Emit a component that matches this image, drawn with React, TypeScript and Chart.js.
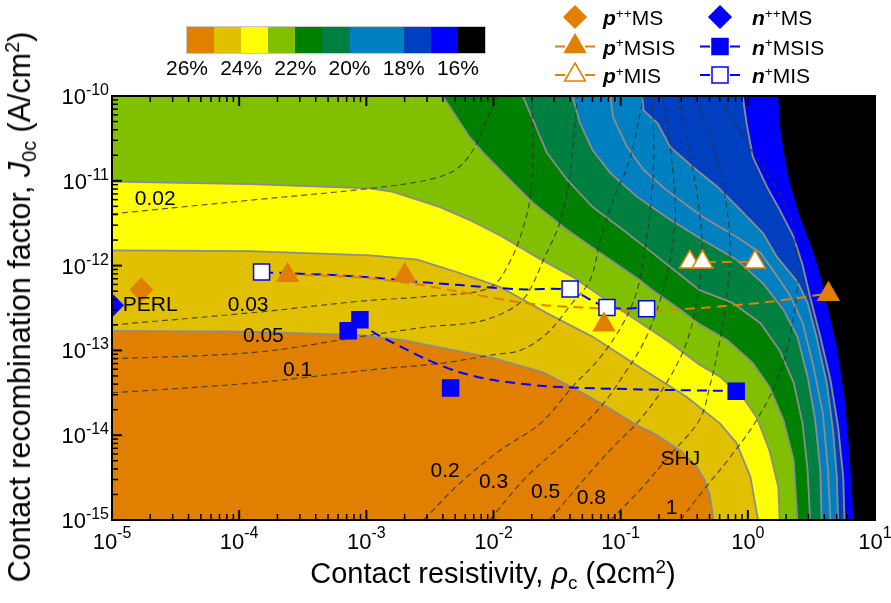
import React, { useEffect, useRef } from 'react';
import { Chart, registerables } from 'chart.js';

Chart.register(...registerables);

const FONT = '"Liberation Sans", Arial, Helvetica, sans-serif';
const ORANGE = '#E07F00';
const BLUE = '#0000FF';

// Axis ranges and decade ticks
const rhoRange = [1e-5, 10];
const j0cRange = [1e-15, 1e-10];
const rhoDecades = [-5, -4, -3, -2, -1, 0, 1];
const j0cDecades = [-15, -14, -13, -12, -11, -10];

// Efficiency colour scale (best -> worst) and colour-bar labels
const bandColors = ['#E07F00', '#E0C000', '#FFFF00', '#80C000', '#008000', '#008040', '#0080C0', '#0080C0', '#0040C0', '#0000FF', '#000000'];
const colorbarLabels = ['26%', '24%', '22%', '20%', '18%', '16%'];

// Iso-efficiency contours, points are [log10 rho_c, log10 J0c]
const eff25 = [[-5, -12.77], [-3.92, -12.78], [-3.05, -12.82], [-2.71, -12.88], [-2.0, -13.09], [-1.61, -13.26], [-1.34, -13.47], [-1.16, -13.62], [-0.85, -13.9], [-0.75, -13.97], [-0.53, -14.18], [-0.4, -14.38], [-0.34, -14.53], [-0.3, -14.7], [-0.27, -15]];
const eff24 = [[-5, -11.82], [-3.92, -11.83], [-2.97, -11.88], [-2.6, -11.93], [-2.26, -12.09], [-1.95, -12.25], [-1.58, -12.56], [-1.22, -12.84], [-0.85, -13.2], [-0.48, -13.55], [-0.38, -13.67], [-0.22, -13.86], [-0.09, -14.09], [0.02, -14.49], [0.08, -15]];
const eff23 = [[-5, -11.01], [-3.92, -11.04], [-2.97, -11.09], [-2.79, -11.13], [-2.42, -11.31], [-2.19, -11.46], [-1.93, -11.66], [-1.66, -11.9], [-1.38, -12.13], [-1.11, -12.41], [-1.0, -12.52], [-0.61, -12.91], [-0.38, -13.17], [-0.22, -13.31], [-0.04, -13.55], [0.07, -13.79], [0.17, -14.18], [0.24, -14.61], [0.25, -15]];
const eff22 = [[-2.4, -10], [-2.19, -10.48], [-2.08, -10.67], [-1.87, -10.99], [-1.69, -11.26], [-1.42, -11.58], [-1.16, -11.85], [-0.85, -12.17], [-0.75, -12.29], [-0.53, -12.52], [-0.38, -12.69], [-0.16, -12.88], [0.04, -13.15], [0.17, -13.43], [0.28, -13.82], [0.36, -14.29], [0.39, -15]];
const eff21 = [[-1.77, -10], [-1.69, -10.28], [-1.58, -10.67], [-1.42, -10.99], [-1.22, -11.31], [-0.98, -11.58], [-0.75, -11.85], [-0.53, -12.11], [-0.38, -12.29], [-0.12, -12.44], [0.1, -12.68], [0.25, -13.0], [0.36, -13.38], [0.43, -13.86], [0.47, -14.41], [0.49, -15]];
const eff20 = [[-1.38, -10], [-1.32, -10.32], [-1.22, -10.64], [-1.08, -10.91], [-0.87, -11.19], [-0.61, -11.46], [-0.35, -11.7], [-0.09, -11.93], [0.12, -12.21], [0.28, -12.52], [0.39, -12.84], [0.47, -13.31], [0.53, -13.82], [0.57, -14.41], [0.58, -15]];
const eff19 = [[-1.08, -10], [-1.06, -10.25], [-0.95, -10.6], [-0.82, -10.87], [-0.64, -11.11], [-0.35, -11.43], [-0.09, -11.66], [0.1, -11.85], [0.21, -12.08], [0.33, -12.35], [0.43, -12.67], [0.51, -13.15], [0.59, -13.74], [0.63, -14.41], [0.65, -15]];
const eff18 = [[-0.83, -10], [-0.82, -10.17], [-0.71, -10.32], [-0.61, -10.6], [-0.43, -10.84], [-0.24, -11.07], [-0.06, -11.34], [0.12, -11.62], [0.23, -11.9], [0.39, -12.19], [0.47, -12.44], [0.54, -12.84], [0.62, -13.38], [0.67, -13.94], [0.7, -14.49], [0.71, -15]];
const eff17 = [[-0.04, -10], [-0.01, -10.32], [0.04, -10.72], [0.15, -11.07], [0.25, -11.34], [0.36, -11.66], [0.43, -11.99], [0.49, -12.37], [0.57, -12.84], [0.65, -13.35], [0.71, -13.9], [0.75, -14.49], [0.76, -15]];
const eff16 = [[0.24, -10], [0.25, -10.32], [0.28, -10.64], [0.33, -11.03], [0.41, -11.43], [0.51, -11.82], [0.57, -12.11], [0.62, -12.44], [0.7, -12.96], [0.76, -13.55], [0.8, -14.21], [0.83, -15]];
const isoContours = [eff25, eff24, eff23, eff22, eff21, eff20, eff19, eff18, eff17, eff16];

// Optimum contact-fraction contours (dashed), [log10 rho_c, log10 J0c]
const frac002 = [[-5, -11.39], [-3.92, -11.23], [-2.97, -11.09], [-2.52, -10.99], [-2.3, -10.87], [-2.17, -10.66], [-2.07, -10.34], [-1.97, -10]];
const frac003 = [[-5, -12.7], [-3.86, -12.55], [-3.05, -12.42], [-2.5, -12.36], [-2.03, -12.26], [-1.87, -11.95], [-1.76, -11.52], [-1.71, -11.17], [-1.69, -10.64], [-1.7, -10]];
const frac005 = [[-5, -13.1], [-3.86, -13.02], [-2.97, -12.82], [-2.5, -12.72], [-2.15, -12.67], [-1.91, -12.55], [-1.75, -12.37], [-1.6, -11.91], [-1.48, -11.5], [-1.41, -11.05], [-1.38, -10.64], [-1.34, -10]];
const frac01 = [[-5, -13.5], [-3.86, -13.38], [-2.97, -13.23], [-2.4, -13.15], [-2.0, -13.05], [-1.79, -13.0], [-1.58, -12.8], [-1.38, -12.44], [-1.24, -12.17], [-1.16, -11.7], [-1.06, -11.23], [-0.95, -10.84], [-0.89, -10.52], [-0.82, -10]];
const frac02 = [[-2.55, -15], [-2.26, -14.56], [-1.95, -14.18], [-1.63, -13.86], [-1.38, -13.43], [-1.16, -13.08], [-0.98, -12.68], [-0.87, -12.29], [-0.81, -11.82], [-0.77, -11.38], [-0.74, -10.76], [-0.75, -10]];
const frac03 = [[-2.03, -15], [-1.74, -14.49], [-1.42, -14.06], [-1.16, -13.67], [-0.95, -13.23], [-0.81, -12.88], [-0.69, -12.41], [-0.61, -11.93], [-0.57, -11.38], [-0.59, -10.87], [-0.63, -10.4], [-0.67, -10]];
const frac05 = [[-1.56, -15], [-1.27, -14.49], [-1.06, -14.14], [-0.85, -13.82], [-0.65, -13.41], [-0.49, -12.94], [-0.4, -12.41], [-0.36, -11.82], [-0.38, -11.38], [-0.43, -10.87], [-0.49, -10.4], [-0.55, -10]];
const frac08 = [[-1.08, -15], [-0.85, -14.65], [-0.61, -14.23], [-0.38, -13.82], [-0.3, -13.43], [-0.22, -12.88], [-0.16, -12.29], [-0.14, -11.82], [-0.16, -11.38], [-0.22, -10.87], [-0.32, -10.4], [-0.42, -10]];
const frac1 = [[-0.53, -15], [-0.35, -14.65], [-0.14, -14.26], [0.07, -13.82], [0.23, -13.35], [0.33, -12.84], [0.39, -12.25], [0.38, -11.82], [0.33, -11.4], [0.2, -11.03], [-0.01, -10.55], [-0.24, -10]];
const fracContours = [frac002, frac003, frac005, frac01, frac02, frac03, frac05, frac08, frac1];
const fracLabels = ['0.02', '0.03', '0.05', '0.1', '0.2', '0.3', '0.5', '0.8', '1'];
const fracLabelAt = [[-4.66, -11.22], [-3.93, -12.47], [-3.81, -12.83], [-3.54, -13.23], [-2.38, -14.43], [-2.0, -14.56], [-1.59, -14.67], [-1.23, -14.74], [-0.6, -14.86]];

// Named technologies
const regionLabels = ['PERL', 'SHJ'];
const regionLabelAt = [[-4.7, -12.47], [-0.53, -14.28]];

// Measured contacts: rho_c (Ohm cm2) and J0c (A/cm2)
const pPPMS_rho = [1.7e-5];
const pPPMS_j = [5.2e-13];
const nPPMS_rho = [1.0e-5];
const nPPMS_j = [3.4e-13];
const pMSIS_rho = [2.4e-4, 2.0e-3, 7.4e-2, 4.3];
const pMSIS_j = [7.7e-13, 7.7e-13, 2.0e-13, 4.6e-13];
const pMIS_rho = [0.35, 0.44, 1.14];
const pMIS_j = [1.1e-12, 1.1e-12, 1.1e-12];
const nMSIS_rho = [7.2e-4, 8.9e-4, 4.6e-3, 0.81];
const nMSIS_j = [1.7e-13, 2.3e-13, 3.6e-14, 3.3e-14];
const nMIS_rho = [1.5e-4, 4.0e-2, 7.8e-2, 0.16];
const nMIS_j = [8.4e-13, 5.3e-13, 3.2e-13, 3.1e-13];

// Trend guides through the measured series, [log10 rho_c, log10 J0c]
const pMSIS_trend = [[-3.62, -12.11], [-3.29, -12.12], [-2.97, -12.15], [-2.6, -12.22], [-2.26, -12.31], [-1.89, -12.41], [-1.58, -12.47], [-1.22, -12.5], [-0.85, -12.54], [-0.38, -12.5], [0.15, -12.43], [0.54, -12.35], [0.63, -12.33]];
const nMSIS_trend = [[-3.05, -12.64], [-2.95, -12.78], [-2.79, -12.91], [-2.52, -13.11], [-2.26, -13.26], [-2.0, -13.35], [-1.61, -13.42], [-1.34, -13.44], [-0.85, -13.46], [-0.09, -13.48]];
const nMIS_trend = [[-3.81, -12.08], [-3.6, -12.09], [-3.05, -12.13], [-2.6, -12.19], [-2.26, -12.23], [-1.79, -12.28], [-1.4, -12.29], [-1.11, -12.49], [-0.8, -12.5]];

const LOG_X_MIN = Math.log10(rhoRange[0]);
const LOG_Y_MAX = Math.log10(j0cRange[1]);

const fromLog = (pts: number[][]) => pts.map(([lx, ly]) => ({ x: Math.pow(10, lx), y: Math.pow(10, ly) }));
const zip = (xs: number[], ys: number[]) => xs.map((x, i) => ({ x, y: ys[i] }));
// contours that enter through the top edge are closed via the top-left corner
const withCorner = (pts: number[][]) => (pts[0][0] > LOG_X_MIN ? [[LOG_X_MIN, LOG_Y_MAX], ...pts] : pts);

function buildDatasets(): any[] {
  const ds: any[] = [];
  // worst band fills the whole map
  ds.push({
    data: fromLog([[LOG_X_MIN, LOG_Y_MAX], [Math.log10(rhoRange[1]), LOG_Y_MAX]]),
    backgroundColor: bandColors[bandColors.length - 1],
    borderWidth: 0, pointRadius: 0, fill: 'start', order: 300,
  });
  isoContours.forEach((c, i) => {
    ds.push({
      data: fromLog(withCorner(c)),
      backgroundColor: bandColors[i],
      borderWidth: 0, pointRadius: 0, fill: 'start', order: 200 + i,
    });
  });
  isoContours.slice(0, isoContours.length - 1).forEach((c) => {
    ds.push({
      data: fromLog(c), borderColor: '#8c8c8c', borderWidth: 1.8,
      pointRadius: 0, fill: false, order: 150,
    });
  });
  fracContours.forEach((c) => {
    ds.push({
      data: fromLog(c), borderColor: 'rgba(50,50,50,0.8)', borderWidth: 1.2,
      borderDash: [6, 4], pointRadius: 0, fill: false, tension: 0.35, order: 140,
    });
  });
  const trend = (pts: number[][], color: string) => ({
    data: fromLog(pts), borderColor: color, borderWidth: 2, borderDash: [10, 6],
    pointRadius: 0, fill: false, tension: 0.3, order: 120,
  });
  ds.push(trend(pMSIS_trend, ORANGE));
  ds.push(trend(nMSIS_trend, BLUE));
  ds.push(trend(nMIS_trend, BLUE));
  const marks = (xs: number[], ys: number[], style: string, r: number, fillC: string, edge: string, extra: any = {}) => ({
    data: zip(xs, ys), showLine: false, pointStyle: style, pointRadius: r,
    pointBackgroundColor: fillC, pointBorderColor: edge, pointBorderWidth: 1.5,
    fill: false, order: 100, ...extra,
  });
  ds.push(marks(pPPMS_rho, pPPMS_j, 'rectRot', 11, ORANGE, ORANGE));
  ds.push(marks(nPPMS_rho, nPPMS_j, 'rectRot', 11, BLUE, BLUE, { clip: 0 }));
  ds.push(marks(pMSIS_rho, pMSIS_j, 'triangle', 12, ORANGE, ORANGE));
  ds.push(marks(pMIS_rho, pMIS_j, 'triangle', 12, '#ffffff', ORANGE, {
    showLine: true, borderColor: ORANGE, borderWidth: 2, borderDash: [10, 6],
  }));
  ds.push(marks(nMSIS_rho, nMSIS_j, 'rect', 11.3, BLUE, BLUE));
  ds.push(marks(nMIS_rho, nMIS_j, 'rect', 11.3, '#ffffff', BLUE));
  return ds;
}

const axesPlugin = {
  id: 'logAxesFrame',
  afterDatasetsDraw(chart: any) {
    const { ctx, chartArea: a } = chart;
    const sx = chart.scales.x;
    const sy = chart.scales.y;
    ctx.save();
    ctx.strokeStyle = '#000';
    const seg = (x1: number, y1: number, x2: number, y2: number) => {
      ctx.beginPath(); ctx.moveTo(x1, y1); ctx.lineTo(x2, y2); ctx.stroke();
    };
    rhoDecades.forEach((e, i) => {
      for (let m = 1; m <= 9; m++) {
        if (i === rhoDecades.length - 1 && m > 1) break;
        const px = sx.getPixelForValue(m * Math.pow(10, e));
        const len = m === 1 ? 10 : 6;
        ctx.lineWidth = m === 1 ? 2 : 1.5;
        seg(px, a.bottom, px, a.bottom - len);
        seg(px, a.top, px, a.top + len);
      }
    });
    j0cDecades.forEach((e, i) => {
      for (let m = 1; m <= 9; m++) {
        if (i === j0cDecades.length - 1 && m > 1) break;
        const py = sy.getPixelForValue(m * Math.pow(10, e));
        const len = m === 1 ? 10 : 6;
        ctx.lineWidth = m === 1 ? 2 : 1.5;
        seg(a.left, py, a.left + len, py);
        seg(a.right, py, a.right - len, py);
      }
    });
    ctx.lineWidth = 2;
    ctx.strokeRect(a.left, a.top, a.right - a.left, a.bottom - a.top);

    // decade labels 10^n
    const big = `22px ${FONT}`;
    const small = `16px ${FONT}`;
    ctx.fillStyle = '#000';
    ctx.textAlign = 'left';
    ctx.textBaseline = 'alphabetic';
    rhoDecades.forEach((e) => {
      const px = sx.getPixelForValue(Math.pow(10, e));
      ctx.font = big; const wb = ctx.measureText('10').width;
      ctx.font = small; const ws = ctx.measureText(String(e)).width;
      const x0 = px - (wb + ws) / 2;
      ctx.font = big; ctx.fillText('10', x0, a.bottom + 29);
      ctx.font = small; ctx.fillText(String(e), x0 + wb, a.bottom + 18);
    });
    j0cDecades.forEach((e) => {
      const py = sy.getPixelForValue(Math.pow(10, e));
      ctx.font = big; const wb = ctx.measureText('10').width;
      ctx.font = small; const ws = ctx.measureText(String(e)).width;
      const xr = a.left - 3;
      ctx.font = small; ctx.fillText(String(e), xr - ws, py - 1);
      ctx.font = big; ctx.fillText('10', xr - ws - wb, py + 8);
    });

    // contour and region labels
    ctx.font = `21px ${FONT}`;
    ctx.textAlign = 'center';
    ctx.textBaseline = 'middle';
    const put = (t: string, p: number[]) => {
      ctx.fillText(t, sx.getPixelForValue(Math.pow(10, p[0])), sy.getPixelForValue(Math.pow(10, p[1])));
    };
    fracLabels.forEach((t, i) => put(t, fracLabelAt[i]));
    regionLabels.forEach((t, i) => put(t, regionLabelAt[i]));
    ctx.restore();
  },
};

type Shape = 'diamond' | 'triangle' | 'square';
const legendItems: { carrier: string; sup: string; name: string; shape: Shape; color: string; hollow: boolean; line: boolean }[] = [
  { carrier: 'p', sup: '++', name: 'MS', shape: 'diamond', color: ORANGE, hollow: false, line: false },
  { carrier: 'p', sup: '+', name: 'MSIS', shape: 'triangle', color: ORANGE, hollow: false, line: true },
  { carrier: 'p', sup: '+', name: 'MIS', shape: 'triangle', color: ORANGE, hollow: true, line: true },
  { carrier: 'n', sup: '++', name: 'MS', shape: 'diamond', color: BLUE, hollow: false, line: false },
  { carrier: 'n', sup: '+', name: 'MSIS', shape: 'square', color: BLUE, hollow: false, line: true },
  { carrier: 'n', sup: '+', name: 'MIS', shape: 'square', color: BLUE, hollow: true, line: true },
];
const legendMarkerX = [575, 720];
const legendTextX = [603, 752];
const legendRowY = [17, 46.5, 75];

const supStyle: React.CSSProperties = { fontSize: '0.65em', position: 'relative', top: '-0.55em', verticalAlign: 'baseline', lineHeight: 0 };
const subStyle: React.CSSProperties = { fontSize: '0.65em', position: 'relative', top: '0.3em', verticalAlign: 'baseline', lineHeight: 0 };

function LegendMarker({ item, cx, cy }: { item: (typeof legendItems)[number]; cx: number; cy: number }) {
  const fill = item.hollow ? '#fff' : item.color;
  let shape: React.ReactNode = null;
  if (item.shape === 'diamond') {
    shape = <polygon points={`${cx - 11},${cy} ${cx},${cy - 11} ${cx + 11},${cy} ${cx},${cy + 11}`} fill={fill} stroke={item.color} strokeWidth={1.5} />;
  } else if (item.shape === 'triangle') {
    shape = <polygon points={`${cx},${cy - 12} ${cx + 10.4},${cy + 6} ${cx - 10.4},${cy + 6}`} fill={fill} stroke={item.color} strokeWidth={1.5} />;
  } else {
    shape = <rect x={cx - 8} y={cy - 8} width={16} height={16} fill={fill} stroke={item.color} strokeWidth={1.5} />;
  }
  return (
    <g>
      {item.line && <line x1={cx - 20} y1={cy} x2={cx - 10} y2={cy} stroke={item.color} strokeWidth={2} />}
      {item.line && <line x1={cx + 10} y1={cy} x2={cx + 20} y2={cy} stroke={item.color} strokeWidth={2} />}
      {shape}
    </g>
  );
}

export default function App() {
  const canvasRef = useRef<HTMLCanvasElement>(null);

  useEffect(() => {
    const canvas = canvasRef.current;
    if (!canvas) return;
    const chart = new Chart(canvas, {
      type: 'line',
      data: { datasets: buildDatasets() },
      options: {
        responsive: false,
        animation: false,
        devicePixelRatio: 1,
        events: [],
        layout: { padding: { left: 112, right: 16, top: 96, bottom: 83 } },
        plugins: { legend: { display: false }, tooltip: { enabled: false } },
        elements: { line: { tension: 0 } },
        scales: {
          x: { type: 'logarithmic', min: rhoRange[0], max: rhoRange[1], display: false },
          y: { type: 'logarithmic', min: j0cRange[0], max: j0cRange[1], display: false },
        },
      } as any,
      plugins: [axesPlugin],
    });
    return () => chart.destroy();
  }, []);

  const cellW = 298 / bandColors.length;

  return (
    <div style={{ position: 'absolute', left: 0, top: 0, width: 891, height: 603, overflow: 'hidden', background: '#fff', fontFamily: FONT, color: '#000' }}>
      <canvas ref={canvasRef} width={891} height={603} style={{ position: 'absolute', left: 0, top: 0, display: 'block' }} />

      {/* colour bar */}
      <div style={{ position: 'absolute', left: 187, top: 27, width: 298, height: 26, display: 'flex', outline: '1px solid #c8c8c8' }}>
        {bandColors.map((c, i) => (
          <div key={i} style={{ flex: 1, background: c }} />
        ))}
      </div>
      {colorbarLabels.map((t, i) => (
        <div key={t} style={{ position: 'absolute', left: 187 + i * 2 * cellW, top: 57, transform: 'translateX(-50%)', fontSize: 21, lineHeight: '21px', whiteSpace: 'nowrap' }}>
          {t}
        </div>
      ))}

      {/* legend */}
      <svg width={891} height={100} style={{ position: 'absolute', left: 0, top: 0 }}>
        {legendItems.map((it, i) => (
          <LegendMarker key={i} item={it} cx={legendMarkerX[Math.floor(i / 3)]} cy={legendRowY[i % 3]} />
        ))}
      </svg>
      {legendItems.map((it, i) => (
        <div key={i} style={{ position: 'absolute', left: legendTextX[Math.floor(i / 3)], top: legendRowY[i % 3] - 10, fontSize: 21, lineHeight: '21px', whiteSpace: 'nowrap' }}>
          <b><i>{it.carrier}</i></b>
          <span style={supStyle}>{it.sup}</span>
          {it.name}
        </div>
      ))}

      {/* axis titles */}
      <div style={{ position: 'absolute', left: 493, top: 559, transform: 'translateX(-50%)', fontSize: 29, lineHeight: '29px', whiteSpace: 'nowrap' }}>
        Contact resistivity, <i>ρ</i><span style={subStyle}>c</span> (Ωcm<span style={supStyle}>2</span>)
      </div>
      <div style={{ position: 'absolute', left: 19, top: 307, transform: 'translate(-50%, -50%) rotate(-90deg)', fontSize: 30.5, lineHeight: '30px', whiteSpace: 'nowrap' }}>
        Contact recombination factor, <i>J</i><span style={subStyle}>0c</span> (A/cm<span style={supStyle}>2</span>)
      </div>
    </div>
  );
}
